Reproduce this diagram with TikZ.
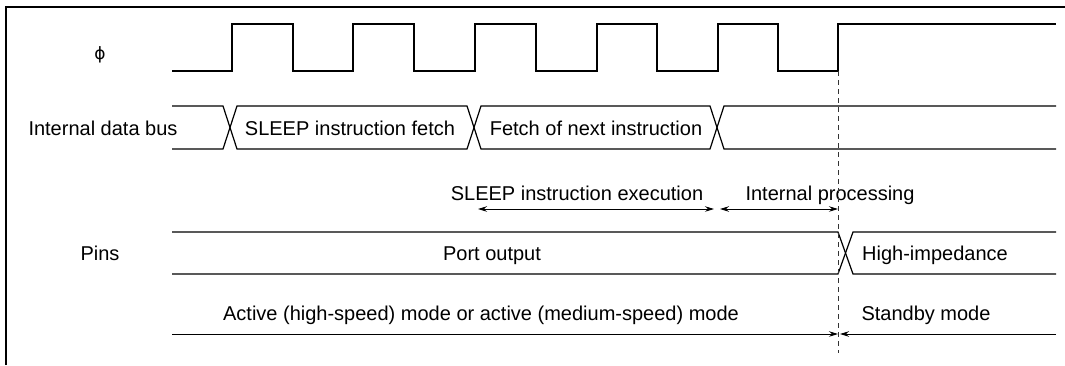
\documentclass[tikz,border=0pt]{standalone}
\usepackage{fontspec}
\setmainfont{Liberation Sans}
\newfontfamily\phifont{DejaVu Sans}
\usetikzlibrary{arrows.meta}
\begin{document}
\begin{tikzpicture}[x=1pt,y=-1pt,
  sig/.style={line width=1.2pt, line join=miter},
  frame/.style={line width=2.5pt},
  lbl/.style={font=\fontsize{20}{24}\selectfont, inner sep=0pt, anchor=base},
  span/.style={line width=1pt, {Stealth[length=9pt,width=5.5pt]}-{Stealth[length=9pt,width=5.5pt]}},
  oneway/.style={line width=1pt, -{Stealth[length=9pt,width=5.5pt]}},
  guide/.style={line width=1pt, dash pattern=on 5pt off 4pt, black!80}]
\useasboundingbox (0,0) rectangle (1065,365);
% frame
\draw[frame] (6,365) -- (6,7) -- (1065,7);
% labels
\node[font=\phifont\fontsize{17}{20}\selectfont, inner sep=0pt] (phi) at (100,55) {ϕ};
\node[lbl] (bus) at (103,135) {Internal data bus};
\node[lbl] (pins) at (100,260) {Pins};
% clock
\draw[sig] (172,71) -- (232,71) -- (232,24) -- (293,24) -- (293,71) -- (353,71) -- (353,24) -- (414,24) -- (414,71) -- (475,71) -- (475,24) -- (536,24) -- (536,71) -- (597,71) -- (597,24) -- (657,24) -- (657,71) -- (718,71) -- (718,24) -- (778,24) -- (778,71) -- (838,71) -- (838,24) -- (1056,24);
% data bus
\draw[sig] (172,106) -- (223,106) -- (237,149) -- (467,149) -- (481,106) -- (710,106) -- (724,149) -- (1056,149);
\draw[sig] (172,149) -- (223,149) -- (237,106) -- (467,106) -- (481,149) -- (710,149) -- (724,106) -- (1056,106);
\node[lbl] (fetch) at (350,135) {SLEEP instruction fetch};
\node[lbl] (next) at (596,135) {Fetch of next instruction};
% execution spans
\node[lbl] (exec) at (577,200) {SLEEP instruction execution};
\node[lbl] (proc) at (830,200) {Internal processing};
\coordinate (e1) at (478,209);
\coordinate (e2) at (714,209);
\coordinate (p1) at (720,209);
\coordinate (p2) at (838,209);
\draw[span] (e1) -- (e2);
\draw[span] (p1) -- (p2);
% pins
\draw[sig] (172,232) -- (838,232) -- (853,274) -- (1056,274);
\draw[sig] (172,274) -- (838,274) -- (853,232) -- (1056,232);
\node[lbl] (port) at (492,260) {Port output};
\node[lbl] (hiz) at (935,260) {High-impedance};
% modes
\node[lbl] (active) at (481,320) {Active (high-speed) mode or active (medium-speed) mode};
\node[lbl] (standby) at (926,320) {Standby mode};
\coordinate (a1) at (172,334);
\coordinate (a2) at (838,334);
\coordinate (s1) at (1056,334);
\coordinate (s2) at (840,334);
\draw[oneway] (a1) -- (a2);
\draw[oneway] (s1) -- (s2);
% guide line
\coordinate (g1) at (838,71);
\coordinate (g2) at (838,353);
\draw[guide] (g1) -- (g2);
\end{tikzpicture}
\end{document}
